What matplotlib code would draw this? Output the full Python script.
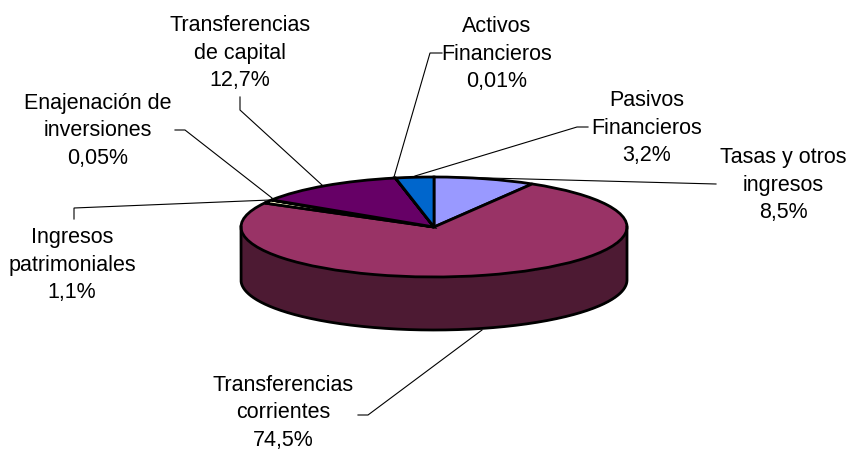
import matplotlib
matplotlib.use("Agg")
import matplotlib.pyplot as plt
import numpy as np

# Data
categories = ["Tasas y otros\ningresos", "Transferencias\ncorrientes", "Ingresos\npatrimoniales",
              "Enajenación de\ninversiones", "Transferencias\nde capital", "Activos\nFinancieros",
              "Pasivos\nFinancieros"]
value_labels = ["8,5%", "74,5%", "1,1%", "0,05%", "12,7%", "0,01%", "3,2%"]
values = [8.5, 74.5, 1.1, 0.05, 12.7, 0.01, 3.2]
colors = ["#9999FF", "#993366", "#FFFFCC", "#CCFFFF", "#660066", "#FF8080", "#0066CC"]
wall_color = "#4D1A33"

# Label centres and leader lines, in pixels of the 850x450 picture
label_pos = [(783, 185), (283, 413), (72, 265), (98, 131), (240, 53), (497, 54), (647, 128)]
leaders = [
    [(450, 177), (716, 184)],
    [(482, 330), (368, 415), (358, 415)],
    [(270, 200), (74, 208), (74, 219)],
    [(272, 198), (185, 130), (175, 130)],
    [(322, 185), (240, 110), (240, 97)],
    [(394, 177), (430, 53), (442, 53)],
    [(415, 176), (577, 127), (588, 127)],
]

W, H = 850, 450
fig = plt.figure(figsize=(W / 100, H / 100), dpi=100)

# Overlay in pixel coordinates for texts and leader lines
over = fig.add_axes([0, 0, 1, 1], zorder=1)
over.set_xlim(0, W)
over.set_ylim(H, 0)
over.axis("off")

# The pie axes covers exactly the top ellipse, so the pie gets squashed
left, right, top, bottom = 241, 627, 177, 277
ax = fig.add_axes([left / W, 1 - bottom / H, (right - left) / W, (bottom - top) / H], zorder=2)
ax.patch.set_alpha(0)

# Side wall of the cylinder
depth = 53 / 50
theta = np.linspace(np.pi, 2 * np.pi, 400)
arc_x = np.cos(theta)
arc_y = np.sin(theta)
ax.fill_between(arc_x, arc_y, arc_y - depth, color=wall_color, lw=0, clip_on=False)
ax.plot(np.r_[-1, arc_x, 1], np.r_[0, arc_y - depth, 0], color="black", lw=2, clip_on=False)

wedges, _ = ax.pie(values, colors=colors, startangle=90, counterclock=False, radius=1,
                   wedgeprops={"edgecolor": "black", "linewidth": 2, "clip_on": False})
ax.set_aspect("auto")
ax.set_xlim(-1, 1)
ax.set_ylim(-1, 1)
ax.axis("off")

# Labels and leaders (leaders go under the pie edge)
for name, val, (x, y) in zip(categories, value_labels, label_pos):
    over.text(x, y, name + "\n" + val, ha="center", va="center", fontsize=15.5,
              family="Liberation Sans", color="black", linespacing=1.38)
for pts in leaders:
    xs, ys = zip(*pts)
    over.plot(xs, ys, color="black", lw=0.8, solid_joinstyle="miter")

fig.savefig("out.png", dpi=100)
